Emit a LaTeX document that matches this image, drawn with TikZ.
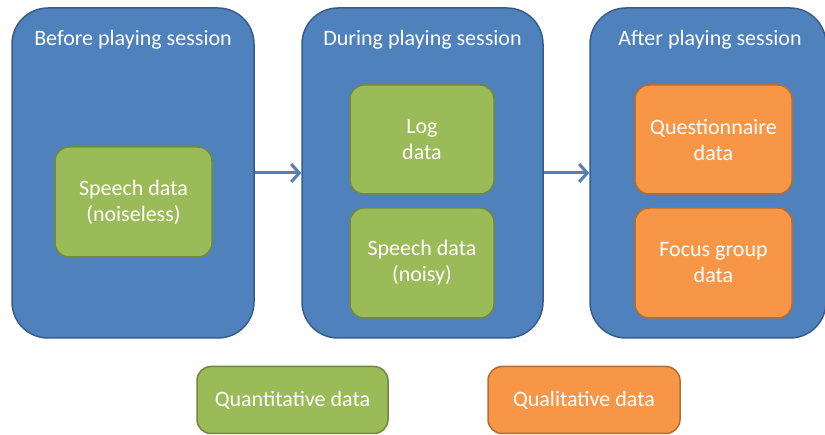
\documentclass[tikz,border=0pt]{standalone}
\usepackage{fontspec}
\setmainfont{Carlito}
\usetikzlibrary{arrows.meta}
\definecolor{bfill}{HTML}{4F81BD}
\definecolor{bdraw}{HTML}{385D8A}
\definecolor{gfill}{HTML}{9BBB59}
\definecolor{gdraw}{HTML}{71893F}
\definecolor{ofill}{HTML}{F79646}
\definecolor{odraw}{HTML}{B66D31}
\tikzset{
  phase/.style={draw=bdraw, fill=bfill, line width=1.5pt, rounded corners=36pt, inner sep=0pt},
  phasetitle/.style={text=white, font=\fontsize{22}{26}\selectfont, inner sep=0pt},
  quant/.style={draw=gdraw, fill=gfill, line width=1.5pt, rounded corners=14pt, text=white,
    align=center, font=\fontsize{22}{26}\selectfont, inner sep=0pt},
  qual/.style={draw=odraw, fill=ofill, line width=1.5pt, rounded corners=14pt, text=white,
    align=center, font=\fontsize{22}{26}\selectfont, inner sep=0pt},
  flow/.style={draw=bfill, line width=3pt, -{Straight Barb[length=8pt,width=18pt]}}
}
\begin{document}
\begin{tikzpicture}[x=1pt,y=-1pt]
\useasboundingbox (0,0) rectangle (825,435);
% phases
\node[phase, minimum width=242pt, minimum height=330pt] (b1) at (133,173) {};
\node[phase, minimum width=241pt, minimum height=330pt] (b2) at (422.5,173) {};
\node[phase, minimum width=236pt, minimum height=330pt] (b3) at (708,173) {};
\node[phasetitle] (t1) at (133,40) {Before playing session};
\node[phasetitle] (t2) at (422.5,40) {During playing session};
\node[phasetitle] (t3) at (710,40) {After playing session};
% data boxes
\node[quant, minimum width=157pt, minimum height=110pt] (s1) at (133.5,202) {Speech data\\(noiseless)};
\node[quant, minimum width=144pt, minimum height=109pt] (log) at (422,139.5) {Log\\data};
\node[quant, minimum width=144pt, minimum height=110pt] (s2) at (422,263) {Speech data\\(noisy)};
\node[qual, minimum width=157pt, minimum height=109pt] (qn) at (713.5,139.5) {Questionnaire\\data};
\node[qual, minimum width=157pt, minimum height=110pt] (fg) at (713.5,263) {Focus group\\data};
% legend
\node[quant, minimum width=191pt, minimum height=67pt] (lq) at (292.5,400) {Quantitative data};
\node[qual, minimum width=192pt, minimum height=67pt] (ll) at (584,400) {Qualitative data};
% arrows
\draw[flow] (b1) -- (b2);
\draw[flow] (b2) -- (b3);
\end{tikzpicture}
\end{document}
